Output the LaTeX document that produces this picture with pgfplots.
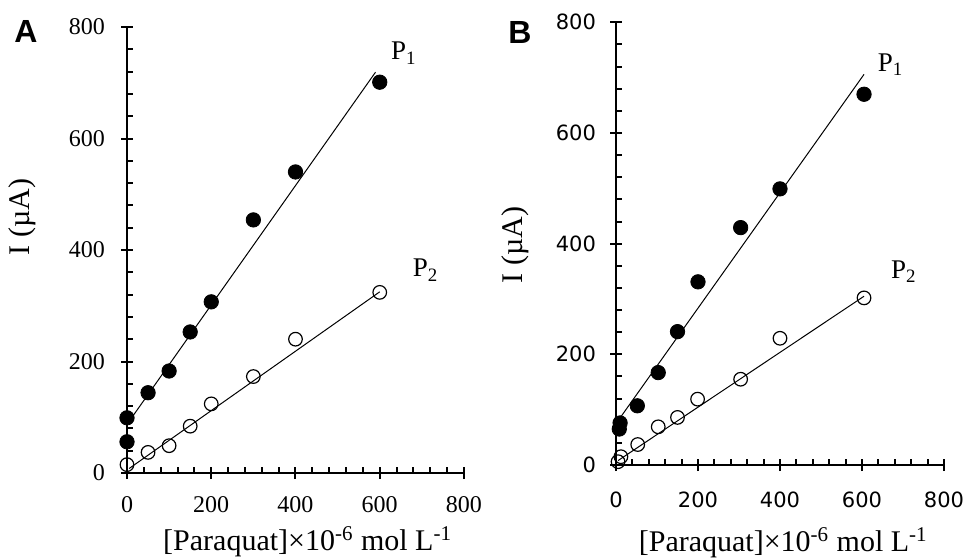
\documentclass[border=0pt]{standalone}
\usepackage{fontspec}
\setmainfont{Liberation Serif}
\newfontfamily\sansB{DejaVu Sans}
\newfontfamily\arialfont{Liberation Sans}
\usepackage{pgfplots}
\pgfplotsset{compat=1.18}

\pgfplotsset{
  calib/.style={
    scale only axis,
    xmin=0, xmax=800, ymin=0, ymax=800,
    xtick={0,200,...,800}, ytick={0,200,...,800},
    minor tick num=4,
    axis lines=left,
    axis line style={-, line width=1pt},
    tick style={black, line width=1pt},
    tick align=center,
    major tick length=6pt,
    minor tick length=2.8pt,
    minor x tick style={yshift=1.4pt},
    minor y tick style={xshift=1.4pt},
    /pgf/number format/assume math mode=true,
    clip=false,
  },
  fit/.style={black, line width=0.5pt, no marks},
  full/.style={only marks, mark=*, mark size=3.6pt, mark options={fill=black, draw=black}},
  open/.style={only marks, mark=o, mark size=3.4pt, mark options={line width=0.6pt, draw=black}},
}

\begin{document}
\begin{tikzpicture}
\path[use as bounding box] (0,0) rectangle (481.5pt,279pt);

% Panel A
\begin{axis}[calib,
  at={(63.5pt,42.5pt)}, anchor=south west,
  width=168.5pt, height=223pt,
  tick label style={font=\fontsize{12}{14}\selectfont},
  xticklabel shift=5pt,
  yticklabel shift=4.5pt,
  xlabel={[Paraquat]\texttimes10\textsuperscript{-6} mol L\textsuperscript{-1}},
  ylabel={I (\textmu A)},
  label style={font=\fontsize{15}{17}\selectfont},
  xlabel style={at={(axis description cs:0.536,-0.154)}, anchor=center},
  ylabel style={at={(axis description cs:-0.312,0.574)}, anchor=center},
]
\addplot[fit] coordinates {(10,98) (590,719)};
\addplot[fit] coordinates {(5,8) (600,325)};
\addplot[full] coordinates {(0,56) (0,99) (50,144) (100,183) (150,253) (200,307) (300,454) (400,540) (600,701)};
\addplot[open] coordinates {(0,15) (50,37) (100,49) (150,84) (200,124) (300,173) (400,240) (600,324)};
\node[font=\fontsize{13.5}{15}\selectfont] at (axis cs:657,753) {P\textsubscript{1}};
\node[font=\fontsize{13.5}{15}\selectfont] at (axis cs:709,364) {P\textsubscript{2}};
\end{axis}

% Panel B
\begin{axis}[calib,
  at={(308pt,46.5pt)}, anchor=south west,
  width=164pt, height=221.35pt,
  tick label style={font=\sansB\fontsize{10.5}{12}\selectfont},
  xticklabel shift=7pt,
  yticklabel shift=3.5pt,
  xlabel={[Paraquat]\texttimes10\textsuperscript{-6} mol L\textsuperscript{-1}},
  ylabel={I (\textmu A)},
  label style={font=\fontsize{15}{17}\selectfont},
  xlabel style={at={(axis description cs:0.51,-0.176)}, anchor=center},
  ylabel style={at={(axis description cs:-0.308,0.497)}, anchor=center},
]
\addplot[fit] coordinates {(5,80) (605,706)};
\addplot[fit] coordinates {(5,8) (605,305)};
\addplot[full] coordinates {(8,65) (10,76) (52,107) (103,167) (150,241) (200,331) (304,429) (400,499) (605,670)};
\addplot[open] coordinates {(5,6) (12,15) (53,37) (103,69) (150,86) (199,119) (304,155) (400,229) (605,302)};
\node[font=\fontsize{13.5}{15}\selectfont] at (axis cs:670,723) {P\textsubscript{1}};
\node[font=\fontsize{13.5}{15}\selectfont] at (axis cs:702,350) {P\textsubscript{2}};
\end{axis}

\node[font=\arialfont\bfseries\fontsize{16}{18}\selectfont] at (13pt,263.5pt) {A};
\node[font=\arialfont\bfseries\fontsize{16}{18}\selectfont] at (260pt,263pt) {B};
\end{tikzpicture}
\end{document}
